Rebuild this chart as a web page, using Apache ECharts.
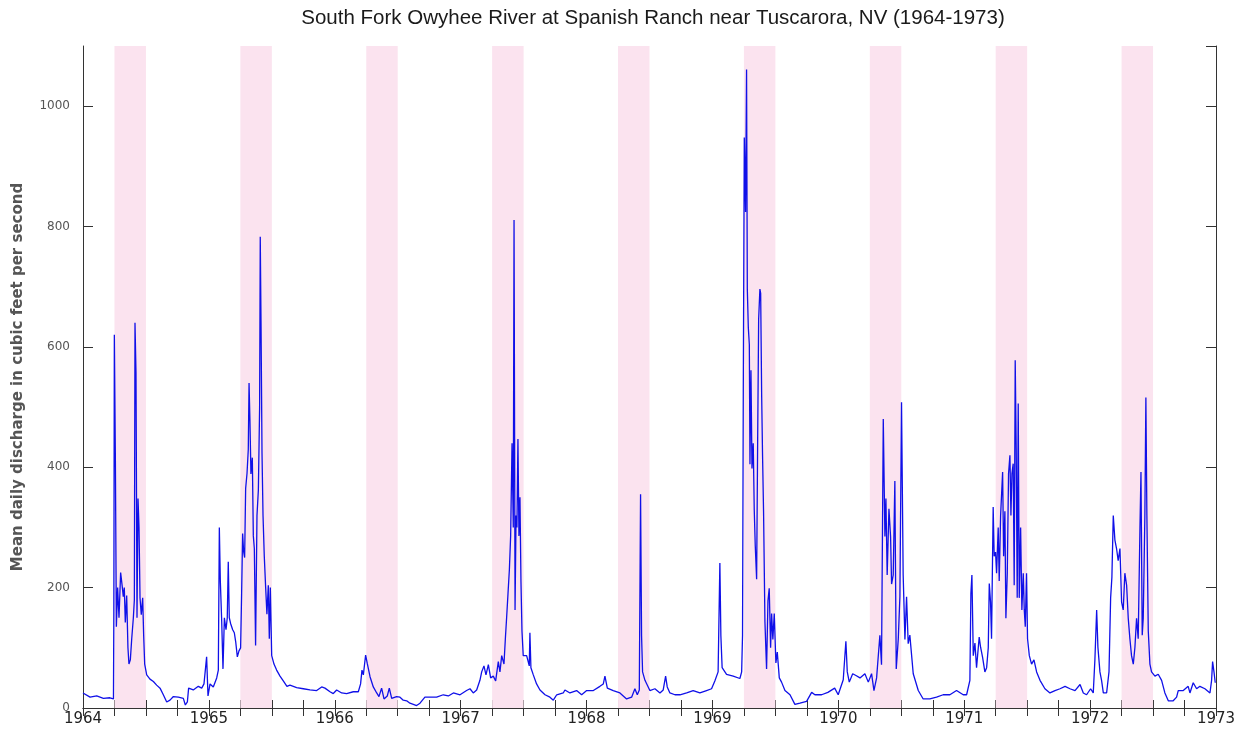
<!DOCTYPE html>
<html>
<head>
<meta charset="utf-8">
<script src="https://cdn.jsdelivr.net/npm/echarts@6/dist/echarts.min.js"></script>
<style>
  html, body { margin: 0; padding: 0; background: #fff; }
  #main { width: 1243px; height: 732px; }
</style>
</head>
<body>
<div id="main"></div>
<script>
// decimal year of each reading
var years = [
  1964.000, 1964.056, 1964.109, 1964.162, 1964.214, 1964.242, 1964.245, 1964.249, 1964.257, 1964.265,
  1964.275, 1964.286, 1964.299, 1964.310, 1964.320, 1964.328, 1964.336, 1964.347, 1964.357, 1964.365,
  1964.376, 1964.387, 1964.400, 1964.408, 1964.413, 1964.421, 1964.429, 1964.437, 1964.445, 1964.453,
  1964.463, 1964.474, 1964.482, 1964.490, 1964.500, 1964.506, 1964.532, 1964.559, 1964.585, 1964.612,
  1964.638, 1964.665, 1964.691, 1964.718, 1964.757, 1964.797, 1964.813, 1964.829, 1964.839, 1964.876,
  1964.916, 1964.943, 1964.961, 1964.982, 1964.993,
  1965.009, 1965.035, 1965.062, 1965.075, 1965.083, 1965.091, 1965.101, 1965.112, 1965.123, 1965.136,
  1965.146, 1965.154, 1965.162, 1965.173, 1965.189, 1965.202, 1965.213, 1965.226, 1965.239, 1965.252,
  1965.260, 1965.268, 1965.276, 1965.284, 1965.292, 1965.303, 1965.313, 1965.319, 1965.326, 1965.334,
  1965.345, 1965.353, 1965.361, 1965.371, 1965.382, 1965.393, 1965.403, 1965.408, 1965.414, 1965.422,
  1965.430, 1965.440, 1965.451, 1965.461, 1965.472, 1965.480, 1965.488, 1965.499, 1965.517, 1965.538,
  1965.565, 1965.591, 1965.620, 1965.644, 1965.697, 1965.750, 1965.803, 1965.856, 1965.896, 1965.922,
  1965.962, 1965.988,
  1966.015, 1966.055, 1966.094, 1966.147, 1966.187, 1966.205, 1966.216, 1966.227, 1966.245, 1966.258,
  1966.280, 1966.306, 1966.333, 1966.351, 1966.372, 1966.391, 1966.417, 1966.433, 1966.452, 1966.491,
  1966.518, 1966.544, 1966.571, 1966.597, 1966.624, 1966.650, 1966.677, 1966.716, 1966.756, 1966.809,
  1966.862, 1966.902, 1966.942, 1966.995,
  1967.047, 1967.074, 1967.100, 1967.127, 1967.153, 1967.167, 1967.185, 1967.201, 1967.220, 1967.238,
  1967.259, 1967.278, 1967.299, 1967.312, 1967.326, 1967.344, 1967.355, 1967.365, 1967.376, 1967.387,
  1967.397, 1967.408, 1967.418, 1967.424, 1967.432, 1967.440, 1967.447, 1967.455, 1967.463, 1967.471,
  1967.479, 1967.487, 1967.497, 1967.524, 1967.545, 1967.550, 1967.558, 1967.577, 1967.603, 1967.630,
  1967.670, 1967.709, 1967.736, 1967.763, 1967.815, 1967.828, 1967.868, 1967.921, 1967.961,
  1968.001, 1968.054, 1968.106, 1968.133, 1968.146, 1968.165, 1968.212, 1968.265, 1968.318, 1968.358,
  1968.384, 1968.403, 1968.419, 1968.429, 1968.437, 1968.445, 1968.464, 1968.503, 1968.543, 1968.583,
  1968.609, 1968.628, 1968.641, 1968.662, 1968.702, 1968.742, 1968.795, 1968.847, 1968.900, 1968.953,
  1968.993,
  1969.019, 1969.045, 1969.059, 1969.067, 1969.077, 1969.091, 1969.112, 1969.165, 1969.218, 1969.232,
  1969.239, 1969.245, 1969.253, 1969.263, 1969.271, 1969.277, 1969.285, 1969.293, 1969.298, 1969.306,
  1969.314, 1969.324, 1969.332, 1969.340, 1969.351, 1969.359, 1969.367, 1969.377, 1969.383, 1969.391,
  1969.398, 1969.406, 1969.417, 1969.430, 1969.441, 1969.451, 1969.462, 1969.470, 1969.480, 1969.491,
  1969.504, 1969.515, 1969.531, 1969.549, 1969.576, 1969.616, 1969.655, 1969.695, 1969.748, 1969.788,
  1969.814, 1969.867, 1969.917, 1969.971, 1969.999,
  1970.039, 1970.060, 1970.071, 1970.087, 1970.114, 1970.140, 1970.172, 1970.211, 1970.238, 1970.264,
  1970.283, 1970.304, 1970.330, 1970.343, 1970.357, 1970.370, 1970.378, 1970.388, 1970.402, 1970.415,
  1970.423, 1970.436, 1970.449, 1970.460, 1970.476, 1970.489, 1970.502, 1970.515, 1970.529, 1970.542,
  1970.555, 1970.568, 1970.595, 1970.635, 1970.674, 1970.727, 1970.780, 1970.833, 1970.886, 1970.939,
  1970.992,
  1971.019, 1971.045, 1971.053, 1971.061, 1971.072, 1971.085, 1971.098, 1971.112, 1971.119, 1971.130,
  1971.146, 1971.164, 1971.178, 1971.191, 1971.199, 1971.209, 1971.217, 1971.230, 1971.238, 1971.249,
  1971.257, 1971.270, 1971.278, 1971.289, 1971.305, 1971.313, 1971.323, 1971.331, 1971.342, 1971.352,
  1971.363, 1971.371, 1971.379, 1971.389, 1971.397, 1971.405, 1971.413, 1971.421, 1971.429, 1971.437,
  1971.448, 1971.458, 1971.469, 1971.477, 1971.485, 1971.495, 1971.503, 1971.517, 1971.535, 1971.554,
  1971.575, 1971.602, 1971.641, 1971.681, 1971.721, 1971.761, 1971.801, 1971.840, 1971.880, 1971.920,
  1971.946, 1971.972,
  1972.004, 1972.025, 1972.038, 1972.052, 1972.062, 1972.078, 1972.091, 1972.105, 1972.131, 1972.150,
  1972.163, 1972.173, 1972.184, 1972.197, 1972.210, 1972.223, 1972.237, 1972.250, 1972.263, 1972.276,
  1972.290, 1972.303, 1972.316, 1972.329, 1972.343, 1972.356, 1972.369, 1972.382, 1972.396, 1972.404,
  1972.414, 1972.422, 1972.435, 1972.443, 1972.451, 1972.462, 1972.475, 1972.488, 1972.515, 1972.541,
  1972.568, 1972.594, 1972.621, 1972.660, 1972.687, 1972.700, 1972.740, 1972.779, 1972.793, 1972.819,
  1972.846, 1972.872, 1972.912, 1972.952, 1972.965, 1972.973, 1972.984, 1972.994
];

// mean daily discharge (cfs) at each of those dates
var flow = [
  25, 18, 20, 16, 17, 15, 160, 620, 420, 135,
  200, 150, 225, 205, 185, 200, 142, 187, 100, 73,
  80, 115, 150, 180, 640, 557, 150, 348, 300, 183,
  155, 183, 120, 73, 70, 55, 48, 44, 38, 33,
  22, 10, 13, 19, 18, 16, 5, 10, 33, 30,
  36, 33, 40, 85, 20,
  40, 35, 50, 63, 300, 210, 150, 65, 150, 130,
  150, 243, 150, 140, 130, 125, 110, 85, 95, 100,
  190, 290, 260, 250, 365, 390, 430, 540, 478, 389,
  416, 286, 265, 104, 320, 362, 500, 783, 643, 423,
  320, 252, 200, 156, 204, 115, 200, 87, 73, 63,
  53, 45, 36, 38, 34, 32, 30, 29, 35, 33,
  27, 24,
  30, 25, 24, 27, 27, 40, 63, 55, 88, 74,
  52, 35, 25, 19, 33, 15, 20, 33, 16, 19,
  18, 13, 12, 8, 6, 4, 8, 18, 18, 18,
  22, 20, 25, 22,
  29, 32, 25, 30, 46, 60, 70, 55, 72, 50,
  53, 45, 77, 60, 87, 73, 115, 150, 190, 230,
  286, 440, 300, 811, 163, 320, 300, 447, 286, 350,
  210, 128, 87, 87, 70, 125, 67, 55, 40, 30,
  22, 18, 13, 22, 25, 30, 25, 29, 22,
  29, 29, 36, 40, 53, 33, 29, 25, 15, 18,
  32, 22, 30, 355, 120, 60, 46, 29, 32, 25,
  30, 53, 35, 25, 22, 22, 25, 29, 25, 29,
  32,
  45, 60, 241, 120, 67, 67, 56, 53, 49, 60,
  121, 526, 948, 824, 1061, 696, 632, 604, 405, 561,
  398, 440, 330, 270, 214, 440, 646, 696, 689, 519,
  420, 327, 143, 65, 178, 199, 100, 157, 114, 157,
  75, 93, 50, 43, 29, 22, 6, 8, 11, 26,
  22, 22, 26, 33, 22,
  47, 111, 60, 43, 57, 54, 50, 57, 43, 57,
  29, 50, 121, 72, 480, 285, 348, 221, 331, 285,
  206, 221, 377, 65, 114, 185, 508, 221, 114, 185,
  107, 121, 57, 29, 15, 15, 18, 22, 22, 29,
  22,
  22, 46, 190, 221, 87, 108, 67, 67, 118, 101,
  84, 60, 67, 100, 207, 176, 115, 334, 252, 259,
  224, 300, 211, 320, 392, 252, 327, 149, 224, 389,
  420, 320, 389, 406, 204, 578, 430, 183, 506, 183,
  300, 163, 224, 163, 135, 224, 115, 87, 73, 80,
  60, 46, 32, 25, 29, 32, 36, 32, 29, 39,
  25, 22,
  32, 25, 80, 163, 101, 60, 46, 25, 25, 60,
  183, 217, 320, 279, 265, 245, 265, 176, 163, 224,
  204, 149, 115, 87, 73, 101, 149, 115, 300, 392,
  121, 149, 320, 516, 320, 128, 73, 60, 53, 56,
  46, 25, 12, 12, 18, 29, 29, 36, 25, 42,
  32, 36, 32, 25, 46, 77, 60, 42
];

// shaded April-June season of each year
var seasonStart = [1964.25, 1965.25, 1966.25, 1967.25, 1968.25, 1969.25, 1970.25, 1971.25, 1972.25];
var seasonEnd = [1964.5, 1965.5, 1966.5, 1967.5, 1968.5, 1969.5, 1970.5, 1971.5, 1972.5];

var chart = echarts.init(document.getElementById('main'), null, { renderer: 'canvas' });

var lineData = years.map(function (y, i) { return [y, flow[i]]; });
var bands = seasonStart.map(function (s, i) { return [{ xAxis: s }, { xAxis: seasonEnd[i] }]; });

var frame = { show: true, lineStyle: { color: '#333', width: 1 } };

chart.setOption({
  animation: false,
  backgroundColor: '#fff',
  title: {
    text: 'South Fork Owyhee River at Spanish Ranch near Tuscarora, NV (1964-1973)',
    left: 648,
    textAlign: 'center',
    top: 3,
    textStyle: { fontFamily: 'Liberation Sans', fontSize: 20.5, fontWeight: 'normal', color: '#1a1a1a' }
  },
  grid: { left: 83, right: 27, top: 46, bottom: 24 },
  xAxis: [{
    type: 'value',
    min: 1964,
    max: 1973,
    interval: 0.25,
    axisLine: frame,
    axisTick: { inside: true, length: 8, lineStyle: { color: '#333' } },
    axisLabel: {
      margin: 4,
      fontFamily: 'DejaVu Sans',
      fontSize: 15,
      color: '#222',
      formatter: function (v) { return Number.isInteger(v) ? String(v) : ''; }
    },
    splitLine: { show: false }
  }, {
    type: 'value',
    position: 'top',
    min: 1964,
    max: 1973,
    interval: 0.25,
    axisLine: frame,
    axisTick: { inside: true, length: 8, lineStyle: { color: '#333' } },
    axisLabel: { show: false },
    splitLine: { show: false }
  }],
  yAxis: [{
    type: 'value',
    min: 0,
    max: 1100,
    interval: 200,
    name: 'Mean daily discharge in cubic feet per second',
    nameLocation: 'middle',
    nameGap: 57,
    nameTextStyle: { fontFamily: 'DejaVu Sans', fontSize: 15, fontWeight: 'bold', color: '#555' },
    axisLine: frame,
    axisTick: { inside: true, length: 10, lineStyle: { color: '#333' } },
    axisLabel: {
      margin: 13,
      fontFamily: 'DejaVu Sans',
      fontSize: 12,
      color: '#555',
      showMaxLabel: false,
      formatter: function (v) { return v % 200 === 0 ? String(v) : ''; }
    },
    splitLine: { show: false }
  }, {
    type: 'value',
    position: 'right',
    min: 0,
    max: 1100,
    interval: 200,
    axisLine: frame,
    axisTick: { inside: true, length: 10, lineStyle: { color: '#333' } },
    axisLabel: { show: false },
    splitLine: { show: false }
  }],
  series: [{
    type: 'line',
    data: lineData,
    showSymbol: false,
    symbol: 'none',
    lineStyle: { color: '#1010e8', width: 1.3 },
    z: 3,
    markArea: {
      silent: true,
      itemStyle: { color: '#fbe3ef' },
      data: bands
    }
  }]
});
</script>
</body>
</html>
